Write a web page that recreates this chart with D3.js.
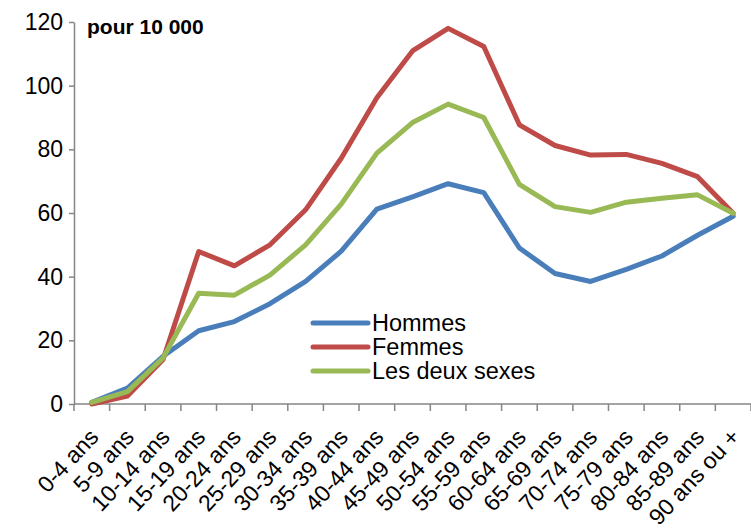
<!DOCTYPE html>
<html><head><meta charset="utf-8">
<script src="https://cdn.jsdelivr.net/npm/d3@7"></script>
<style>body{margin:0;background:#fff}svg{display:block;font-family:"Liberation Sans",Arial,sans-serif}</style>
</head><body><svg id="c" width="751" height="530"></svg>
<script>
const categories = ["0-4 ans","5-9 ans","10-14 ans","15-19 ans","20-24 ans","25-29 ans","30-34 ans","35-39 ans","40-44 ans","45-49 ans","50-54 ans","55-59 ans","60-64 ans","65-69 ans","70-74 ans","75-79 ans","80-84 ans","85-89 ans","90 ans ou +"];
const hommes = [0.5,5,15,23,25.9,31.5,38.5,48,61.2,65.1,69.2,66.4,49,41,38.5,42.3,46.5,53,59];
const femmes = [0,2.5,14,47.9,43.4,50,61,77.2,96.2,110.9,118,112.3,87.7,81.2,78.2,78.4,75.6,71.4,59.9];
const deux = [0.5,3.9,14.5,34.8,34.2,40.5,50,62.8,78.8,88.4,94.2,90,69,62,60.2,63.4,64.6,65.7,59.9];
const seriesNames = ["Hommes","Femmes","Les deux sexes"];
const yTicks = [0,20,40,60,80,100,120];
const title = "pour 10 000";

const svg = d3.select("#c");
const mLeft = 74, mRight = 751, mTop = 22, mBottom = 404;
const x = d3.scaleBand().domain(categories).range([mLeft, mRight]).padding(0);
const y = d3.scaleLinear().domain([0,120]).range([mBottom, mTop]);
const axisColor = "#868686";
const colors = ["#4a7ebb","#be4b48","#98b954"];
const data = [hommes, femmes, deux];

// y axis
const ya = svg.append("g").attr("transform",`translate(${mLeft},0)`)
  .call(d3.axisLeft(y).tickValues(yTicks).tickSize(5).tickPadding(6).tickSizeOuter(0));
ya.select(".domain").attr("stroke",axisColor).attr("stroke-width",1.5);
ya.selectAll(".tick line").attr("stroke",axisColor).attr("stroke-width",1.5);
ya.selectAll(".tick text").attr("font-size",23).attr("fill","#000").attr("font-family","Liberation Sans, Arial, sans-serif");

// x axis
const xa = svg.append("g").attr("transform",`translate(0,${mBottom})`);
xa.append("line").attr("x1",mLeft).attr("x2",mRight).attr("y1",0).attr("y2",0).attr("stroke",axisColor).attr("stroke-width",1.5);
const bounds = categories.map(c => x(c)).concat([x(categories[categories.length-1]) + x.bandwidth()]);
xa.selectAll("line.tk").data(bounds).enter().append("line").attr("class","tk")
  .attr("x1",d=>d).attr("x2",d=>d).attr("y1",0).attr("y2",7).attr("stroke",axisColor).attr("stroke-width",1.5);
xa.selectAll("text").data(categories).enter().append("text")
  .attr("transform", d => `translate(${x(d)+x.bandwidth()/2+8},${34}) rotate(-47)`)
  .attr("text-anchor","end").attr("font-size",23).attr("fill","#000").text(d=>d);

// lines
const line = d3.line().x((d,i)=>x(categories[i])+x.bandwidth()/2).y(d=>y(d));
data.forEach((s,i)=>{
  svg.append("path").datum(s).attr("d",line).attr("fill","none")
    .attr("stroke",colors[i]).attr("stroke-width",5).attr("stroke-linejoin","round").attr("stroke-linecap","round");
});

// title
svg.append("text").attr("x",87).attr("y",34).attr("font-size",21).attr("font-weight","bold").attr("fill","#000").text(title);

// legend
const lg = svg.append("g");
seriesNames.forEach((n,i)=>{
  const yy = 323 + i*24;
  lg.append("line").attr("x1",313).attr("x2",368).attr("y1",yy).attr("y2",yy).attr("stroke",colors[i]).attr("stroke-width",5).attr("stroke-linecap","round");
  lg.append("text").attr("x",372).attr("y",yy+8).attr("font-size",23.5).attr("fill","#000").text(n);
});
</script></body></html>
